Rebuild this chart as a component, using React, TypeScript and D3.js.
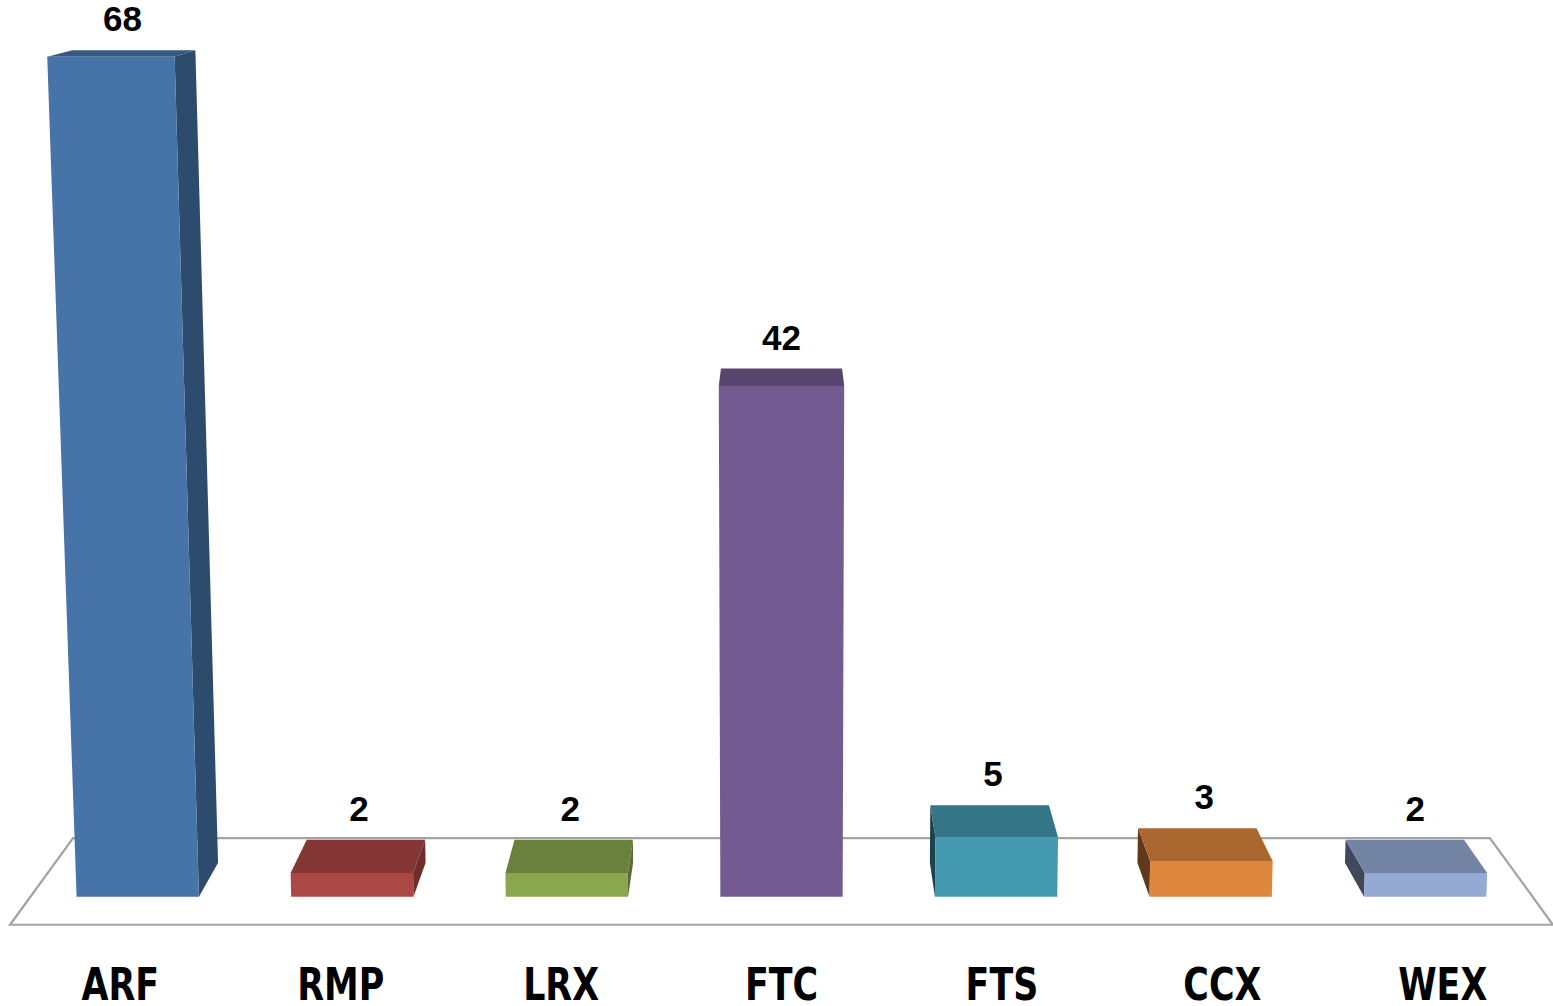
import React, { useEffect } from 'react';
import * as d3 from 'd3';

// ---- data ----
const categories = ['ARF', 'RMP', 'LRX', 'FTC', 'FTS', 'CCX', 'WEX'];
const values = [68, 2, 2, 42, 5, 3, 2];
const frontColors = ['#4673A8', '#AB4745', '#8AA64F', '#735A90', '#4399B0', '#DC863E', '#95AAD3'];

// ---- layout / camera ----
const W = 1553;
const H = 1006;
const FOCAL = 3622;
const PITCH = (10 * Math.PI) / 180;
const CX = 781.5;
const CY = 503;
const CAM_DIST = 1000;
const CAM_H = 298.9;
const FLOOR_HALF = 220.8;
const FLOOR_DEPTH = 93.6;
const BAR_Z0 = 28.6;
const BAR_Z1 = 65.3;
const MAX_H = 245.4;

const sinP = Math.sin(PITCH);
const cosP = Math.cos(PITCH);

function project(X: number, Y: number, Z: number): [number, number] {
  const dy = Y - CAM_H;
  const dz = Z + CAM_DIST;
  const zc = -dy * sinP + dz * cosP;
  const yc = dy * cosP + dz * sinP;
  return [CX + (FOCAL * X) / zc, CY - (FOCAL * yc) / zc];
}

const poly = (pts: [number, number][]) => (d3.line()(pts) || '') + 'Z';

export default function App() {
  useEffect(() => {
    document.body.style.margin = '0';
    document.body.style.overflow = 'hidden';
  }, []);

  const x = d3
    .scaleBand<string>()
    .domain(categories)
    .range([-FLOOR_HALF, FLOOR_HALF])
    .paddingInner(0.43)
    .paddingOuter(0.215);
  const hScale = d3.scaleLinear().domain([0, d3.max(values) as number]).range([0, MAX_H]);

  const floor: [number, number][] = [
    project(-FLOOR_HALF, 0, 0),
    project(FLOOR_HALF, 0, 0),
    project(FLOOR_HALF, 0, FLOOR_DEPTH),
    project(-FLOOR_HALF, 0, FLOOR_DEPTH),
  ];

  const valueFont = "'Liberation Sans', Arial, sans-serif";
  const catFont = "'DejaVu Sans Condensed', 'DejaVu Sans', sans-serif";

  return (
    <svg
      width={W}
      height={H}
      viewBox={`0 0 ${W} ${H}`}
      style={{ position: 'absolute', left: 0, top: 0, display: 'block', background: '#fff' }}
    >
      <path d={poly(floor)} fill="#ffffff" stroke="#A3A3A3" strokeWidth={2.2} />
      {categories.map((c, i) => {
        const x0 = x(c) as number;
        const x1 = x0 + x.bandwidth();
        const xm = (x0 + x1) / 2;
        const h = hScale(values[i]);
        const front = frontColors[i];
        const top = d3.rgb(front).darker(0.73).formatHex();
        const rightSide = d3.rgb(front).darker(1.21).formatHex();
        const leftSide = d3.rgb(front).darker(2.37).formatHex();
        const frontFace = poly([
          project(x0, 0, BAR_Z0),
          project(x1, 0, BAR_Z0),
          project(x1, h, BAR_Z0),
          project(x0, h, BAR_Z0),
        ]);
        const topFace = poly([
          project(x0, h, BAR_Z0),
          project(x1, h, BAR_Z0),
          project(x1, h, BAR_Z1),
          project(x0, h, BAR_Z1),
        ]);
        let side: React.ReactNode = null;
        if (x1 < 0) {
          side = (
            <path
              d={poly([
                project(x1, 0, BAR_Z0),
                project(x1, 0, BAR_Z1),
                project(x1, h, BAR_Z1),
                project(x1, h, BAR_Z0),
              ])}
              fill={rightSide}
            />
          );
        } else if (x0 > 0) {
          side = (
            <path
              d={poly([
                project(x0, 0, BAR_Z0),
                project(x0, 0, BAR_Z1),
                project(x0, h, BAR_Z1),
                project(x0, h, BAR_Z0),
              ])}
              fill={leftSide}
            />
          );
        }
        const topMid = project(xm, h, (BAR_Z0 + BAR_Z1) / 2);
        const topBack = project(xm, h, BAR_Z1);
        const catPos = project(xm, 0, 0);
        return (
          <g key={c}>
            {side}
            <path d={topFace} fill={top} />
            <path d={frontFace} fill={front} />
            <text
              x={topMid[0]}
              y={topBack[1] - 19}
              textAnchor="middle"
              fontFamily={valueFont}
              fontWeight="bold"
              fontSize={35}
              fill="#000"
            >
              {values[i]}
            </text>
            <text
              transform={`translate(${catPos[0]},${catPos[1] + 75}) scale(0.88,1)`}
              textAnchor="middle"
              fontFamily={catFont}
              fontWeight="bold"
              fontSize={44}
              fill="#000"
            >
              {c}
            </text>
          </g>
        );
      })}
    </svg>
  );
}
